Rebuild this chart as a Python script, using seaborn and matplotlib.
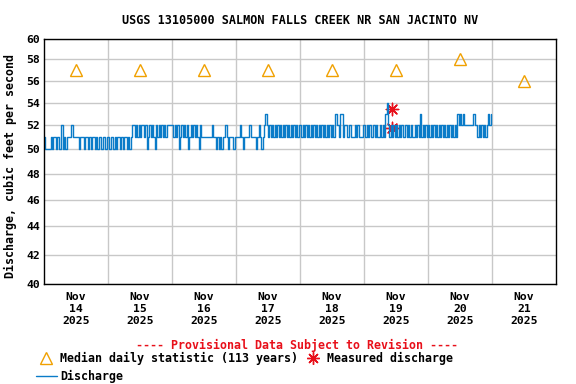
import numpy as np
import pandas as pd
import matplotlib
matplotlib.use("Agg")
import matplotlib.pyplot as plt
import matplotlib.dates as mdates
from matplotlib.ticker import FixedLocator, FuncFormatter, NullLocator
from matplotlib.lines import Line2D
import seaborn as sns

# ---- data ----
title = "USGS 13105000 SALMON FALLS CREEK NR SAN JACINTO NV"
start_day = "2025-11-14"
# discharge, one digit per 30 minutes: digit d means 50 + d cfs
day_codes = [
    "100001011010020101112211110111011010110101101101",  # Nov 14
    "101101011010110101221212122120121210212121212222",  # Nov 15
    "2121201212120121" + "21210211111111211010101121011101",  # Nov 16
    "11121011112111101" + "21012" + "3" + "2121212121212121212121212",  # Nov 17
    "21212121212121212121212121" + "33213312" + "21121112121112",  # Nov 18
    "2121211212112121" + "34" + "212121212121121212112121" + "31" + "2121",  # Nov 19
    "2121212121212121212121" + "32323222222232" + "21212121" + "2323",  # Nov 20
]
median_days = ["2025-11-14 12:00", "2025-11-15 12:00", "2025-11-16 12:00",
               "2025-11-17 12:00", "2025-11-18 12:00", "2025-11-19 12:00",
               "2025-11-20 12:00", "2025-11-21 12:00"]
median_values = [57, 57, 57, 57, 57, 57, 58, 56]
measured_times = ["2025-11-19 10:30", "2025-11-19 10:30"]
measured_values = [53.4, 51.8]
tick_labels = ["Nov\n14\n2025", "Nov\n15\n2025", "Nov\n16\n2025", "Nov\n17\n2025",
               "Nov\n18\n2025", "Nov\n19\n2025", "Nov\n20\n2025", "Nov\n21\n2025"]
y_ticks = [40, 42, 44, 46, 48, 50, 52, 54, 56, 58, 60]

# ---- build table ----
times, vals = [], []
t0 = pd.Timestamp(start_day)
for k, code in enumerate(day_codes):
    n = len(code)
    for i, ch in enumerate(code):
        times.append(t0 + pd.Timedelta(days=k) + pd.Timedelta(days=1) * i / n)
        vals.append(50 + int(ch))
flow = pd.DataFrame({"time": times, "discharge": vals})
med = pd.DataFrame({"time": pd.to_datetime(median_days), "value": median_values})
meas = pd.DataFrame({"time": pd.to_datetime(measured_times), "value": measured_values})

sns.set_style("white")
plt.rcParams["font.family"] = ["DejaVu Sans Mono"]
plt.rcParams["font.weight"] = "bold"
plt.rcParams["text.color"] = "black"
plt.rcParams["axes.labelcolor"] = "black"
plt.rcParams["xtick.color"] = "black"
plt.rcParams["ytick.color"] = "black"

fig = plt.figure(figsize=(5.76, 3.84), dpi=100)
ax = fig.add_axes([44 / 576, 1 - 284 / 384, 512 / 576, 245 / 384])

blue = "#0a7bc8"
orange = "#f0a000"
red = "#e8101a"
fs = 8.4

sns.lineplot(data=flow, x="time", y="discharge", ax=ax, color=blue, lw=1.0,
             drawstyle="steps-post", estimator=None, legend=False)
sns.lineplot(data=med, x="time", y="value", ax=ax, linestyle="", marker="^",
             markersize=8, markerfacecolor="none", markeredgecolor=orange,
             markeredgewidth=1.0, color=orange, estimator=None, legend=False)
sns.scatterplot(data=meas, x="time", y="value", ax=ax, marker=(8, 2, 0),
                s=80, edgecolor=red, color=red, linewidth=1.0, legend=False)

ax.set_yscale("log")
ax.set_ylim(40, 60)
ax.yaxis.set_major_locator(FixedLocator(y_ticks))
ax.yaxis.set_minor_locator(NullLocator())
ax.yaxis.set_major_formatter(FuncFormatter(lambda v, p: f"{v:g}"))

ax.set_xlim(pd.Timestamp("2025-11-14"), pd.Timestamp("2025-11-22"))
ax.xaxis.set_major_locator(FixedLocator(mdates.date2num(pd.to_datetime(median_days))))
ax.set_xticklabels(tick_labels)
ax.xaxis.set_minor_locator(FixedLocator(mdates.date2num(pd.date_range("2025-11-15", "2025-11-21", freq="D"))))

ax.grid(False)
ax.grid(True, which="minor", axis="x", color="#c8c8c8", lw=1.0)
ax.grid(True, which="major", axis="y", color="#c8c8c8", lw=1.0)
ax.tick_params(axis="both", which="both", length=0, labelsize=fs - 0.2, pad=3)
ax.tick_params(axis="x", pad=6)
for lab in ax.get_xticklabels() + ax.get_yticklabels():
    lab.set_fontweight("bold")
    lab.set_color("black")
for s in ax.spines.values():
    s.set_color("black")
    s.set_linewidth(1.0)

ax.set_xlabel("")
ax.set_ylabel("Discharge, cubic feet per second", fontsize=fs, fontweight="bold",
              color="black")
ax.yaxis.set_label_coords((17 - 44) / 512, (284 - 166) / 245)
fig.text(300 / 576, 1 - 20 / 384, title, ha="center", va="center", fontsize=fs + 0.1,
         fontweight="bold", color="black")
fig.text(297 / 576, 1 - 345 / 384, "---- Provisional Data Subject to Revision ----",
         ha="center", va="center", fontsize=fs, fontweight="bold", color=red)

h_med = Line2D([], [], linestyle="", marker="^", markersize=8, markerfacecolor="none",
               markeredgecolor=orange, markeredgewidth=1.0)
h_meas = Line2D([], [], linestyle="", marker=(8, 2, 0), markersize=9,
                markeredgecolor=red, markeredgewidth=1.0)
h_dis = Line2D([], [], color=blue, lw=1.0)
leg = fig.legend([h_med, h_dis, h_meas],
                 ["Median daily statistic (113 years)", "Discharge", "Measured discharge"],
                 ncol=2, loc="upper left", bbox_to_anchor=(35.5 / 576, 1 - 352 / 384),
                 frameon=False, handlelength=1.8, handletextpad=0.3,
                 columnspacing=0.35, labelspacing=0.45, borderaxespad=0, borderpad=0,
                 prop={"weight": "bold", "size": fs, "family": "DejaVu Sans Mono"})
for t in leg.get_texts():
    t.set_color("black")

fig.savefig("out.png", dpi=100)
